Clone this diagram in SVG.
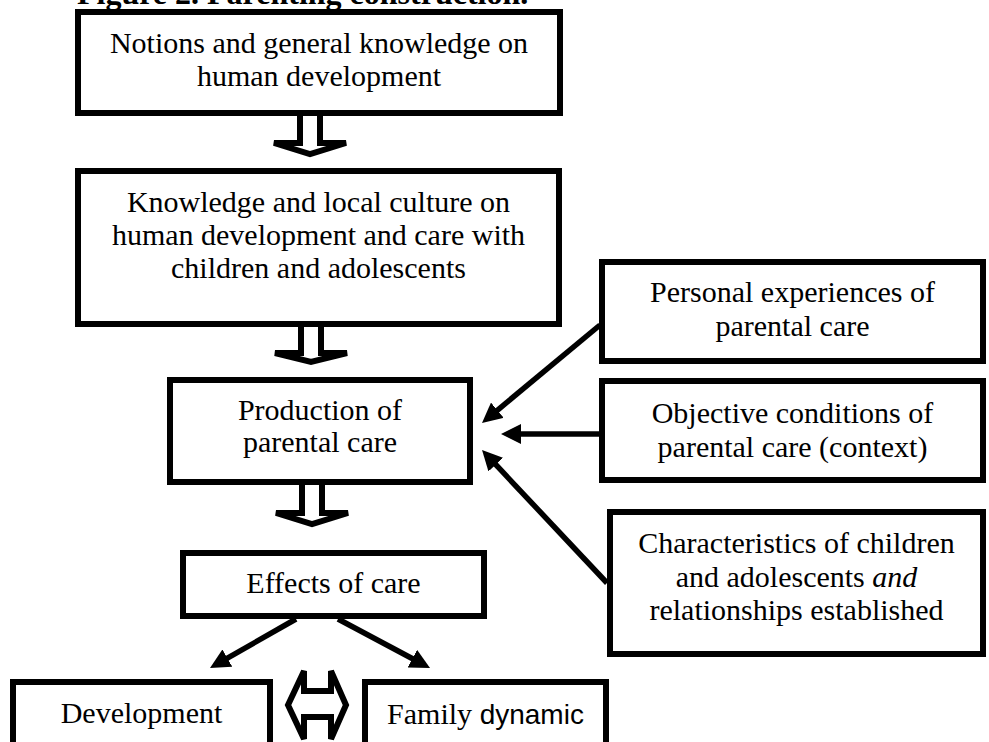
<svg xmlns="http://www.w3.org/2000/svg" width="989" height="742" viewBox="0 0 989 742">
<style>
.box{fill:#fff;stroke:#000;stroke-width:6}
.t{font-family:"Liberation Serif","Times New Roman",serif;font-size:30px;fill:#000;text-anchor:middle}
.ttl{font-family:"Liberation Serif","Times New Roman",serif;font-size:32px;font-weight:bold;fill:#000}
.blk{fill:#fff;stroke:#000;stroke-width:6;stroke-linejoin:miter}
.ln{fill:none;stroke:#000;stroke-width:5.5;marker-end:url(#ah)}
</style>
<defs>
<marker id="ah" viewBox="0 0 20 20" refX="4" refY="10" markerWidth="20" markerHeight="20" markerUnits="userSpaceOnUse" orient="auto">
<path d="M0,0 L20,10 L0,20 z" fill="#000"/>
</marker>
</defs>
<rect width="989" height="742" fill="#fff"/>
<text class="ttl" x="77" y="4">Figure 2. Parenting construction.</text>

<g id="n1"><rect class="box" x="78" y="12" width="482" height="101"/>
<text class="t" x="319" y="53">Notions and general knowledge on</text>
<text class="t" x="319" y="86">human development</text></g>

<g id="n2"><rect class="box" x="78" y="171" width="481" height="153"/>
<text class="t" x="318.5" y="212">Knowledge and local culture on</text>
<text class="t" x="318.5" y="245">human development and care with</text>
<text class="t" x="318.5" y="278">children and adolescents</text></g>

<g id="n3"><rect class="box" x="170" y="380" width="300" height="102"/>
<text class="t" x="320" y="420">Production of</text>
<text class="t" x="320" y="452">parental care</text></g>

<g id="n4"><rect class="box" x="183" y="553" width="301" height="63"/>
<text class="t" x="333.5" y="593">Effects of care</text></g>

<g id="n5"><rect class="box" x="602" y="262" width="381" height="99"/>
<text class="t" x="792.5" y="302">Personal experiences of</text>
<text class="t" x="792.5" y="336">parental care</text></g>

<g id="n6"><rect class="box" x="602" y="381" width="381" height="99"/>
<text class="t" x="792.5" y="423">Objective conditions of</text>
<text class="t" x="792.5" y="457">parental care (context)</text></g>

<g id="n7"><rect class="box" x="610" y="512" width="373" height="142"/>
<text class="t" x="796.5" y="553">Characteristics of children</text>
<text class="t" x="796.5" y="587">and adolescents <tspan font-style="italic">and</tspan></text>
<text class="t" x="796.5" y="620">relationships established</text></g>

<g id="n8"><rect class="box" x="13" y="682" width="257" height="100"/>
<text class="t" x="141.5" y="723">Development</text></g>

<g id="n9"><rect class="box" x="365" y="682" width="241" height="100"/>
<text class="t" x="485.5" y="724">Family <tspan font-family="'Liberation Sans',Arial,sans-serif" font-size="28">dynamic</tspan></text></g>

<g id="connectors">
<polygon class="blk" points="300,113 320,113 320,143 346,143 310,154 274,143 300,143"/>
<polygon class="blk" points="301,324 321,324 321,353 347,353 311,362 275,353 301,353"/>
<polygon class="blk" points="302,482 322,482 322,513 348,513 312,524 276,513 302,513"/>
<polygon class="blk" stroke-width="5" points="288,705 304,671 304,691 331,691 331,671 346,705 331,739 331,717 304,717 304,739"/>
<line class="ln" x1="600" y1="325" x2="494.3" y2="412.8"/>
<line class="ln" x1="600" y1="434" x2="517" y2="434"/>
<line class="ln" x1="607" y1="583" x2="493" y2="461.7"/>
<line class="ln" x1="296" y1="619" x2="223.9" y2="660.1"/>
<line class="ln" x1="338" y1="619" x2="415.9" y2="660.5"/>
</g>
</svg>
